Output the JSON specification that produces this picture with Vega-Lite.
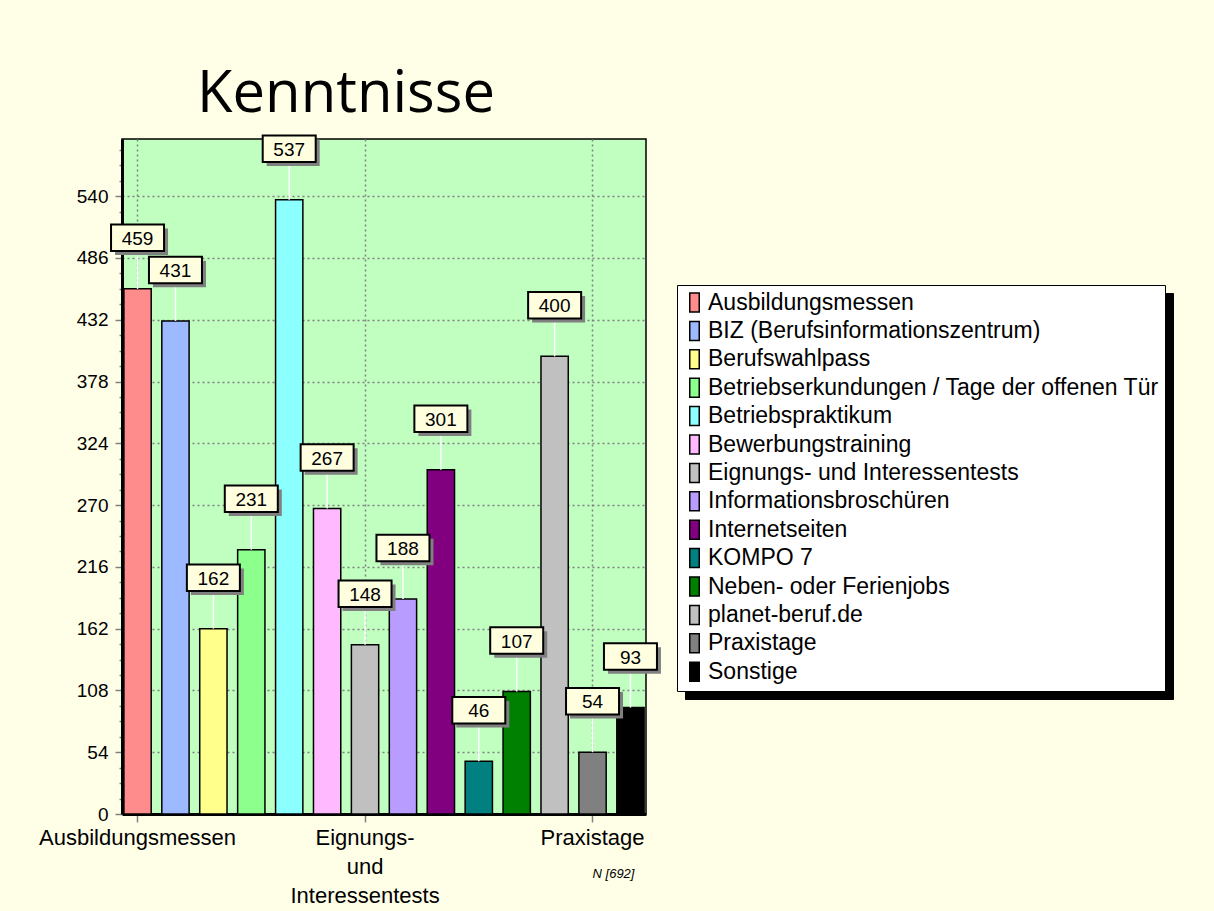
{
  "$schema": "https://vega.github.io/schema/vega-lite/v6.json",
  "width": 524,
  "height": 675,
  "autosize": "none",
  "padding": {"left": 122, "top": 139, "right": 568, "bottom": 97},
  "background": "#FFFFE8",
  "title": {
    "text": "Kenntnisse",
    "font": "Open Sans",
    "fontSize": 58,
    "fontWeight": "normal",
    "color": "black",
    "anchor": "start",
    "frame": "group",
    "baseline": "alphabetic",
    "dx": 75,
    "dy": 54,
    "offset": 15
  },
  "data": {
    "values": [
      {"Medium": "Ausbildungsmessen", "Anzahl": 459},
      {"Medium": "BIZ (Berufsinformationszentrum)", "Anzahl": 431},
      {"Medium": "Berufswahlpass", "Anzahl": 162},
      {"Medium": "Betriebserkundungen / Tage der offenen Tür", "Anzahl": 231},
      {"Medium": "Betriebspraktikum", "Anzahl": 537},
      {"Medium": "Bewerbungstraining", "Anzahl": 267},
      {"Medium": "Eignungs- und Interessentests", "Anzahl": 148},
      {"Medium": "Informationsbroschüren", "Anzahl": 188},
      {"Medium": "Internetseiten", "Anzahl": 301},
      {"Medium": "KOMPO 7", "Anzahl": 46},
      {"Medium": "Neben- oder Ferienjobs", "Anzahl": 107},
      {"Medium": "planet-beruf.de", "Anzahl": 400},
      {"Medium": "Praxistage", "Anzahl": 54},
      {"Medium": "Sonstige", "Anzahl": 93}
    ]
  },
  "encoding": {
    "x": {
      "field": "Medium",
      "type": "nominal",
      "sort": null,
      "scale": {"paddingInner": 0.28, "paddingOuter": 0.05},
      "axis": {
        "values": ["Ausbildungsmessen", "Eignungs- und Interessentests", "Praxistage"],
        "labelExpr": "datum.value == 'Eignungs- und Interessentests' ? ['Eignungs-', 'und', 'Interessentests'] : datum.label",
        "labelAngle": 0,
        "labelFont": "Liberation Sans",
        "labelFontSize": 22,
        "labelColor": "black",
        "labelLineHeight": 29,
        "labelPadding": 5,
        "labelLimit": 400,
        "tickSize": 8,
        "tickColor": "#808080",
        "tickWidth": 1.5,
        "domainColor": "black",
        "domainWidth": 3,
        "grid": true,
        "gridColor": "#808080",
        "gridDash": [2, 3],
        "gridWidth": 1.5,
        "title": "N [692]",
        "titleFont": "Liberation Sans",
        "titleFontSize": 13,
        "titleFontStyle": "italic",
        "titleFontWeight": "normal",
        "titleColor": "black",
        "titleX": 491,
        "titleY": 59,
        "titleAlign": "center",
        "titleBaseline": "middle"
      }
    },
    "y": {
      "field": "Anzahl",
      "type": "quantitative",
      "scale": {"domain": [0, 590], "nice": false, "zero": true},
      "axis": {
        "values": [0, 13.5, 27, 40.5, 54, 67.5, 81, 94.5, 108, 121.5, 135, 148.5, 162, 175.5, 189, 202.5, 216, 229.5, 243, 256.5, 270, 283.5, 297, 310.5, 324, 337.5, 351, 364.5, 378, 391.5, 405, 418.5, 432, 445.5, 459, 472.5, 486, 499.5, 513, 526.5, 540, 553.5, 567, 580.5],
        "labelExpr": "datum.value % 54 === 0 ? datum.label : ''",
        "labelFont": "Liberation Sans",
        "labelFontSize": 19,
        "labelColor": "black",
        "labelPadding": 7,
        "tickSize": {"condition": {"test": "datum.value % 54 === 0", "value": 7}, "value": 3},
        "tickColor": "#808080",
        "tickWidth": 1.5,
        "domainColor": "black",
        "domainWidth": 3,
        "grid": true,
        "gridColor": "#808080",
        "gridDash": [2, 3],
        "gridWidth": 1.5,
        "gridOpacity": {"condition": {"test": "datum.value % 54 === 0 && datum.value > 0", "value": 1}, "value": 0},
        "title": null
      }
    }
  },
  "layer": [
    {
      "mark": {"type": "bar", "stroke": "black", "strokeWidth": 1.5},
      "encoding": {
        "color": {
          "field": "Medium",
          "type": "nominal",
          "sort": null,
          "scale": {
            "domain": ["Ausbildungsmessen", "BIZ (Berufsinformationszentrum)", "Berufswahlpass", "Betriebserkundungen / Tage der offenen Tür", "Betriebspraktikum", "Bewerbungstraining", "Eignungs- und Interessentests", "Informationsbroschüren", "Internetseiten", "KOMPO 7", "Neben- oder Ferienjobs", "planet-beruf.de", "Praxistage", "Sonstige"],
            "range": ["#FF8C8C", "#9DB9FF", "#FFFF8C", "#8CFF8C", "#8CFFFF", "#FFB9FF", "#C0C0C0", "#B99CFF", "#800080", "#008080", "#008000", "#C0C0C0", "#808080", "#000000"]
          },
          "legend": {
            "orient": "none",
            "legendX": 555,
            "legendY": 146,
            "title": null,
            "symbolType": "M-0.5,-1H0.5V1H-0.5Z",
            "symbolSize": 361,
            "symbolStrokeColor": "black",
            "symbolStrokeWidth": 1.5,
            "labelFont": "Liberation Sans",
            "labelFontSize": 23,
            "labelColor": "black",
            "labelLimit": 700,
            "labelOffset": 2,
            "rowPadding": 3.4,
            "padding": 6,
            "fillColor": "white",
            "strokeColor": "black",
            "zindex": 2
          }
        }
      }
    },
    {
      "mark": {"type": "rule", "color": "white", "strokeWidth": 1.5, "y2Offset": -38},
      "encoding": {"y2": {"field": "Anzahl"}}
    },
    {
      "mark": {"type": "point", "shape": "M-1,-0.5H1V0.5H-1Z", "size": 2809, "filled": true, "fill": "#808080", "strokeWidth": 0, "opacity": 1, "xOffset": 4, "yOffset": -47},
      "encoding": {
        "stroke": {
          "field": "Medium",
          "type": "nominal",
          "sort": null,
          "scale": {"range": ["black"]},
          "legend": {
            "orient": "none",
            "legendX": 563,
            "legendY": 154,
            "title": null,
            "symbolType": "M-0.5,-1H0.5V1H-0.5Z",
            "symbolSize": 361,
            "symbolFillColor": "black",
            "symbolStrokeColor": "black",
            "symbolStrokeWidth": 1.5,
            "labelExpr": "''",
            "labelFont": "Liberation Sans",
            "labelFontSize": 23,
            "labelColor": "black",
            "labelLimit": 700,
            "labelOffset": 453,
            "rowPadding": 3.4,
            "padding": 6,
            "fillColor": "black",
            "strokeColor": "black",
            "zindex": 1
          }
        }
      }
    },
    {
      "mark": {"type": "point", "shape": "M-1,-0.5H1V0.5H-1Z", "size": 2809, "filled": true, "fill": "#FFFFE0", "stroke": "black", "strokeWidth": 2, "opacity": 1, "yOffset": -51}
    },
    {
      "mark": {"type": "text", "font": "Liberation Sans", "fontSize": 19, "color": "black", "baseline": "middle", "align": "center", "yOffset": -50},
      "encoding": {"text": {"field": "Anzahl", "type": "quantitative"}}
    }
  ],
  "config": {
    "view": {"fill": "#C0FFC0", "stroke": "black", "strokeWidth": 1.5}
  }
}
